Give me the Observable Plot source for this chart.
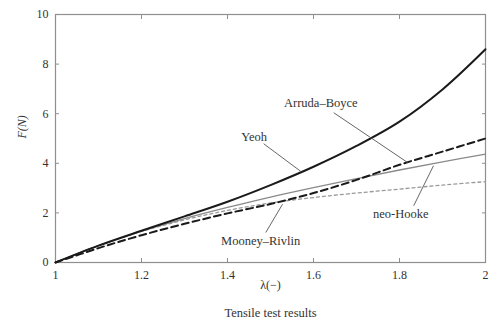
<!DOCTYPE html>
<html>
<head>
<meta charset="utf-8">
<script src="https://cdn.jsdelivr.net/npm/d3@7"></script>
<script src="https://cdn.jsdelivr.net/npm/@observablehq/plot@0.6"></script>
<style>
  html, body { margin: 0; padding: 0; background: #fff; }
  #chart svg, #chart svg text { font-family: "Liberation Serif", "DejaVu Serif", serif !important; }
</style>
</head>
<body>
<div id="chart"></div>
<script>
// stretch λ (−)
const lambda = [1.0, 1.1, 1.2, 1.3, 1.4, 1.5, 1.6, 1.7, 1.8, 1.9, 2.0];
// force F (N) per model
const yeoh         = [0, 0.68, 1.28, 1.86, 2.45, 3.12, 3.86, 4.70, 5.68, 6.98, 8.60];
const arrudaBoyce  = [0, 0.58, 1.10, 1.56, 1.98, 2.36, 2.80, 3.33, 3.94, 4.47, 5.00];
const neoHooke     = [0, 0.68, 1.26, 1.77, 2.22, 2.64, 3.02, 3.38, 3.73, 4.06, 4.37];
const mooneyRivlin = [0, 0.68, 1.25, 1.72, 2.10, 2.40, 2.62, 2.80, 2.96, 3.12, 3.26];

const xTicks = [1, 1.2, 1.4, 1.6, 1.8, 2];
const xTickLabels = ["1", "1.2", "1.4", "1.6", "1.8", "2"];
const yTicks = [0, 2, 4, 6, 8, 10];
const yTickLabels = ["0", "2", "4", "6", "8", "10"];

// annotations: label text, label anchor, leader line start/end (data units)
const annLabels = ["Yeoh", "Arruda–Boyce", "Mooney–Rivlin", "neo-Hooke"];
const annX  = [1.462, 1.617, 1.477, 1.803];
const annY  = [5.07, 6.44, 0.88, 1.95];
const annX1 = [1.484, 1.647, 1.489, 1.833];
const annY1 = [4.79, 6.04, 1.21, 2.29];
const annX2 = [1.570, 1.819, 1.528, 1.879];
const annY2 = [3.68, 4.03, 2.35, 3.90];

const series = [
  {name: "Yeoh", values: yeoh},
  {name: "Arruda–Boyce", values: arrudaBoyce},
  {name: "neo-Hooke", values: neoHooke},
  {name: "Mooney–Rivlin", values: mooneyRivlin}
];
const rows = series.flatMap(s => lambda.map((l, i) => ({model: s.name, lambda: l, F: s.values[i]})));
const ann = annLabels.map((t, i) => ({t, x: annX[i], y: annY[i], x1: annX1[i], y1: annY1[i], x2: annX2[i], y2: annY2[i]}));

const frameColor = "#8f8f8f";
const txt = "#333";
const serif = "'Liberation Serif', 'DejaVu Serif', serif";

const chart = Plot.plot({
  width: 497,
  height: 322,
  marginLeft: 55,
  marginRight: 12,
  marginTop: 14,
  marginBottom: 60,
  x: {domain: [1, 2]},
  y: {domain: [0, 10]},
  style: {fontFamily: serif, fontSize: "12px", color: txt, background: "#fff"},
  marks: [
    Plot.frame({stroke: frameColor, strokeWidth: 1.2}),
    Plot.axisX({ticks: xTicks, tickSize: -4, tickPadding: 12, stroke: frameColor, fill: txt, fontSize: 12,
      tickFormat: d => xTickLabels[xTicks.indexOf(d)], label: null}),
    Plot.axisX({anchor: "top", ticks: xTicks.slice(1, -1), tickSize: -4, stroke: frameColor, tickFormat: () => "", label: null}),
    Plot.axisY({ticks: yTicks, tickSize: -4, tickPadding: 11, stroke: frameColor, fill: txt, fontSize: 12,
      tickFormat: d => yTickLabels[yTicks.indexOf(d)], label: null}),
    Plot.axisY({anchor: "right", ticks: yTicks.slice(1, -1), tickSize: -4, stroke: frameColor, tickFormat: () => "", label: null}),

    Plot.line(rows.filter(d => d.model === "Mooney–Rivlin"), {x: "lambda", y: "F", stroke: "#9a9a9a", strokeWidth: 1.3, strokeDasharray: "3,3", curve: "catmull-rom"}),
    Plot.line(rows.filter(d => d.model === "neo-Hooke"), {x: "lambda", y: "F", stroke: "#8a8a8a", strokeWidth: 1.3, curve: "catmull-rom"}),
    Plot.line(rows.filter(d => d.model === "Arruda–Boyce"), {x: "lambda", y: "F", stroke: "#1a1a1a", strokeWidth: 2, strokeDasharray: "7,4", curve: "catmull-rom"}),
    Plot.line(rows.filter(d => d.model === "Yeoh"), {x: "lambda", y: "F", stroke: "#1a1a1a", strokeWidth: 2, curve: "catmull-rom"}),

    Plot.link(ann, {x1: "x1", y1: "y1", x2: "x2", y2: "y2", stroke: "#555", strokeWidth: 0.9}),
    Plot.text(ann, {x: "x", y: "y", text: "t", fill: txt, fontSize: 12.5, fontFamily: serif}),

    Plot.text(["F(N)"], {frameAnchor: "left", dx: -33, rotate: -90, fontStyle: "italic", fill: txt, fontSize: 12, fontFamily: serif}),
    Plot.text(["λ(−)"], {frameAnchor: "bottom", dy: 26, fill: txt, fontSize: 12, fontFamily: serif}),
    Plot.text(["Tensile test results"], {frameAnchor: "bottom", dy: 54, fill: txt, fontSize: 12.5, fontFamily: serif})
  ]
});
document.getElementById("chart").appendChild(chart);
</script>
</body>
</html>
